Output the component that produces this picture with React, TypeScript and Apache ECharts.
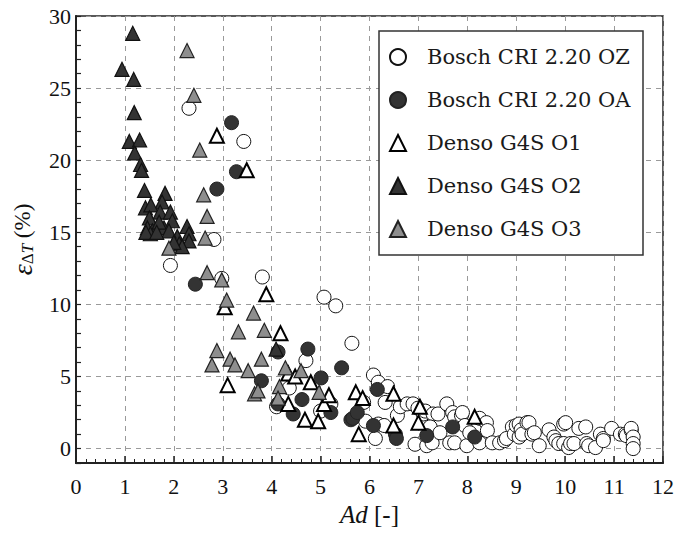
import React, { useEffect, useRef } from "react";
import * as echarts from "echarts";

const seriesNames = [
  "Bosch CRI 2.20 OZ",
  "Bosch CRI 2.20 OA",
  "Denso G4S O1",
  "Denso G4S O2",
  "Denso G4S O3",
];

const boschOZ: number[][] = [
  [1.93, 12.7], [2.31, 23.6], [2.82, 14.5], [2.98, 11.8], [3.43, 21.3], [3.81, 11.9],
  [4.1, 2.9], [4.36, 4.2], [4.7, 6.1], [5.07, 10.5], [5.31, 9.9], [5.21, 3.1], [5.0, 2.6],
  [5.64, 7.3], [5.88, 3.2], [5.92, 1.9], [6.08, 5.1], [6.12, 0.7], [6.18, 4.6], [6.18, 1.7],
  [6.3, 1.6], [6.37, 4.3], [6.32, 3.2], [6.57, 2.3], [6.63, 2.9], [6.77, 3.1], [6.89, 3.1],
  [6.93, 0.3], [6.99, 2.8], [7.1, 2.4], [7.14, 2.6], [7.17, 0.2], [7.28, 0.4], [7.3, 2.4],
  [7.24, 1.5], [7.44, 1.1], [7.4, 2.4], [7.58, 3.1], [7.64, 0.4], [7.7, 2.5], [7.74, 2.2],
  [7.74, 0.4], [7.88, 2.3], [7.9, 2.5], [7.95, 1.6], [7.99, 0.2], [8.05, 1.1], [8.25, 0.4],
  [8.25, 2.1], [8.39, 1.8], [8.41, 1.25], [8.51, 0.4], [8.66, 0.4], [8.76, 0.55], [8.8, 0.7],
  [8.92, 1.5], [8.96, 1.0], [9.0, 1.6], [9.06, 1.7], [9.06, 0.8], [9.1, 1.3], [9.12, 1.0],
  [9.22, 1.8], [9.26, 1.8], [9.32, 1.0], [9.37, 1.1], [9.47, 0.2], [9.67, 1.3], [9.77, 0.8],
  [9.81, 0.55], [9.87, 0.35], [9.97, 1.7], [9.97, 0.35], [10.01, 1.8], [10.07, 0.07],
  [10.11, 0.35], [10.18, 0.35], [10.28, 1.4], [10.42, 1.5], [10.44, 0.35], [10.48, 0.2],
  [10.62, 0.07], [10.72, 1.0], [10.78, 0.7], [10.78, 0.55], [10.95, 1.4], [11.13, 1.0],
  [11.23, 1.0], [11.25, 0.9], [11.35, 1.25], [11.35, 1.4], [11.39, 0.8], [11.39, 0.35],
  [11.39, 0.0],
];

const boschOA: number[][] = [
  [2.44, 11.4], [2.88, 18.0], [3.18, 22.6], [3.28, 19.2], [3.79, 4.7], [4.13, 6.7],
  [4.13, 3.1], [4.44, 2.4], [4.62, 3.4], [4.74, 6.9], [5.01, 4.9], [5.21, 2.5], [5.43, 5.6],
  [5.62, 2.0], [5.66, 2.1], [5.75, 2.5], [6.08, 1.6], [6.16, 4.1], [6.53, 1.0], [6.55, 0.7],
  [7.17, 0.9], [7.7, 1.5], [8.15, 0.8],
];

const densoO1: number[][] = [
  [2.88, 21.7], [3.49, 19.3], [3.04, 9.8], [3.89, 10.7], [4.18, 8.0], [3.1, 4.4],
  [4.34, 5.2], [4.48, 5.0], [4.8, 4.6], [4.34, 3.1], [4.68, 2.0], [4.95, 1.9], [5.07, 3.1],
  [5.17, 3.7], [5.72, 3.9], [5.86, 3.5], [5.78, 1.0], [6.49, 3.8], [6.49, 1.6], [7.03, 2.9],
  [7.0, 1.8], [8.15, 2.2],
];

const densoO2: number[][] = [
  [0.94, 26.3], [1.16, 28.8], [1.18, 25.6], [1.19, 23.3], [1.09, 21.3], [1.3, 21.4],
  [1.2, 20.5], [1.32, 19.7], [1.34, 19.3], [1.4, 17.9], [1.82, 17.7], [1.76, 17.1],
  [1.42, 16.7], [1.53, 16.9], [1.72, 16.4], [1.93, 16.4], [1.5, 16.0], [1.97, 15.8],
  [1.46, 15.3], [1.56, 15.1], [1.8, 15.3], [1.7, 15.7], [2.27, 15.4], [2.31, 14.9],
  [2.31, 14.4], [2.07, 14.7], [2.11, 14.2], [2.17, 14.0], [1.9, 15.1], [1.52, 14.9],
  [1.43, 15.0], [1.65, 15.0], [2.0, 14.3], [4.09, 6.9],
];

const densoO3: number[][] = [
  [2.27, 27.6], [2.41, 24.5], [2.53, 20.7], [2.61, 17.6], [2.68, 16.1], [2.64, 14.6],
  [1.9, 13.9], [2.68, 12.2], [2.98, 11.7], [3.08, 10.3], [3.32, 8.1], [3.63, 9.4],
  [3.85, 8.2], [2.88, 6.8], [2.78, 5.8], [3.15, 6.2], [3.25, 5.8], [3.52, 5.4], [3.79, 6.2],
  [3.65, 3.8], [3.72, 4.0], [4.16, 4.3], [4.28, 5.6], [4.6, 5.4], [4.97, 3.9], [4.13, 3.5],
];

const FONT = "'Liberation Serif', 'DejaVu Serif', serif";
const LEGEND_FONT = "'DejaVu Serif', 'Liberation Serif', serif";

export default function App() {
  const ref = useRef<HTMLDivElement>(null);
  useEffect(() => {
    if (!ref.current) return;
    const chart = echarts.init(ref.current, null, { renderer: "svg" });
    const dash = { type: [5, 5] as any, color: "#9a9a9a", width: 1 };
    const mk = (
      name: string,
      data: number[][],
      symbol: string,
      size: number | number[],
      fill: string,
      border: string,
      bw: number
    ) => ({
      name,
      type: "scatter",
      data,
      symbol,
      symbolSize: size,
      z: 3,
      itemStyle: { color: fill, borderColor: border, borderWidth: bw, opacity: 1 },
    });
    chart.setOption({
      animation: false,
      backgroundColor: "#fff",
      grid: {
        left: 73,
        top: 16,
        right: 14,
        bottom: 78,
        show: true,
        borderColor: "#222",
        borderWidth: 1.5,
        backgroundColor: "transparent",
      },
      xAxis: {
        type: "value",
        min: 0,
        max: 12,
        interval: 1,
        axisLine: { show: true, onZero: false, lineStyle: { color: "#222", width: 2 } },
        axisTick: { show: true, inside: true, length: 7, lineStyle: { color: "#222", width: 1.5 } },
        minorTick: { show: true, splitNumber: 5, length: 4, lineStyle: { color: "#222", width: 1 } },
        axisLabel: { fontFamily: FONT, fontSize: 22, color: "#111", margin: 12 },
        splitLine: { show: true, lineStyle: dash },
        name: "{i|Ad} [-]",
        nameLocation: "middle",
        nameGap: 37,
        nameTextStyle: {
          fontFamily: FONT,
          fontSize: 25,
          color: "#111",
          rich: { i: { fontFamily: FONT, fontSize: 25, fontStyle: "italic", color: "#111" } },
        },
      },
      yAxis: {
        type: "value",
        min: -1,
        max: 30,
        interval: 1,
        axisLine: { show: true, onZero: false, lineStyle: { color: "#222", width: 2 } },
        axisTick: { show: true, inside: true, length: 5, lineStyle: { color: "#222", width: 1.2 } },
        axisLabel: {
          fontFamily: FONT,
          fontSize: 22,
          color: "#111",
          margin: 5,
          formatter: (v: number) => (v >= 0 && v % 5 === 0 ? String(v) : ""),
        },
        splitLine: {
          show: true,
          lineStyle: {
            type: [5, 5] as any,
            width: 1,
            color: ["rgba(0,0,0,0)", "#9a9a9a", "rgba(0,0,0,0)", "rgba(0,0,0,0)", "rgba(0,0,0,0)"],
          },
        },
        name: "{e|ε}{s|Δ}{t|T} {n|(%)}",
        nameLocation: "middle",
        nameRotate: 90,
        nameGap: 40,
        nameTextStyle: {
          fontFamily: FONT,
          fontSize: 23,
          color: "#111",
          rich: {
            e: { fontFamily: FONT, fontSize: 28, fontStyle: "italic", color: "#111" },
            s: { fontFamily: FONT, fontSize: 17, color: "#111", verticalAlign: "bottom", padding: [10, 0, 0, 0] },
            t: { fontFamily: FONT, fontSize: 17, fontStyle: "italic", color: "#111", verticalAlign: "bottom", padding: [10, 0, 0, 0] },
            n: { fontFamily: FONT, fontSize: 23, color: "#111" },
          },
        },
      },
      graphic: [
        {
          type: "rect",
          z: 5,
          shape: { x: 379, y: 31, width: 264, height: 224 },
          style: { fill: "#fff", stroke: "#333", lineWidth: 1.5 },
        },
      ],
      legend: {
        z: 10,
        orient: "vertical",
        left: 389,
        top: 46,
        padding: 0,
        itemGap: 21,
        itemWidth: 16,
        itemHeight: 16,
        textStyle: {
          fontFamily: LEGEND_FONT,
          fontSize: 21,
          lineHeight: 22,
          color: "#1a1a1a",
          padding: [0, 0, 0, 16],
        },
        data: seriesNames,
      },
      series: [
        mk(seriesNames[0], boschOZ, "circle", 14, "#fff", "#111", 1),
        mk(seriesNames[1], boschOA, "circle", 14, "#333", "#222", 1),
        mk(seriesNames[2], densoO1, "triangle", 14, "#fff", "#000", 2),
        mk(seriesNames[3], densoO2, "triangle", 14, "#333", "#111", 1.2),
        mk(seriesNames[4], densoO3, "triangle", 14, "#8e8e8e", "#222", 1.2),
      ],
    });
    return () => chart.dispose();
  }, []);
  return <div ref={ref} style={{ width: 677, height: 541, position: "absolute", left: 0, top: 0 }} />;
}
